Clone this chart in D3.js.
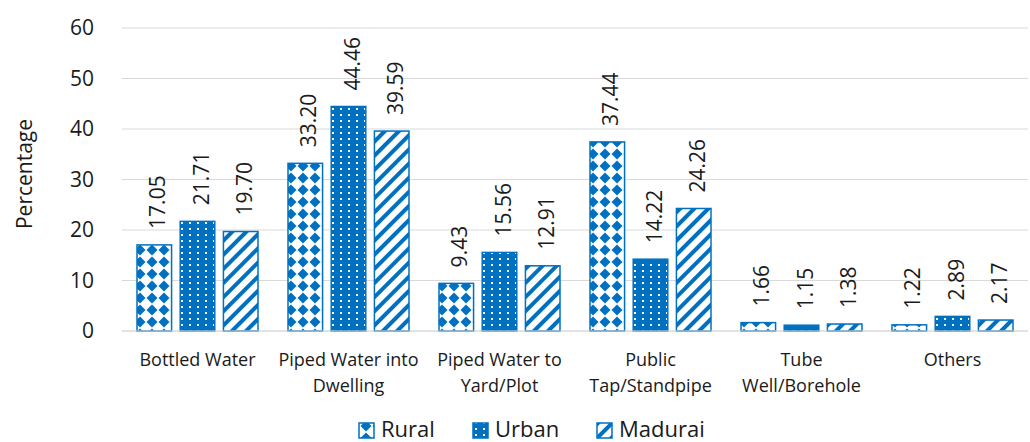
<!DOCTYPE html>
<html>
<head>
<meta charset="utf-8">
<script src="https://cdn.jsdelivr.net/npm/d3@7"></script>
<style>
body { margin: 0; background: #fff; }
text { font-family: "Open Sans", sans-serif; fill: #1a1a1a; }
</style>
</head>
<body>
<script>
// data
const categories = [
  ['Bottled Water'],
  ['Piped Water into', 'Dwelling'],
  ['Piped Water to', 'Yard/Plot'],
  ['Public', 'Tap/Standpipe'],
  ['Tube', 'Well/Borehole'],
  ['Others']
];
const seriesNames = ['Rural', 'Urban', 'Madurai'];
const rural = [17.05, 33.20, 9.43, 37.44, 1.66, 1.22];
const urban = [21.71, 44.46, 15.56, 14.22, 1.15, 2.89];
const madurai = [19.70, 39.59, 12.91, 24.26, 1.38, 2.17];
const yTicks = [0, 10, 20, 30, 40, 50, 60];

const blue = '#0070C0';
const width = 1030, height = 442;
const margin = { top: 28, right: 2, bottom: 111, left: 122 };
const innerW = width - margin.left - margin.right;
const innerH = height - margin.top - margin.bottom;

const svg = d3.select('body').append('svg')
  .attr('width', width)
  .attr('height', height);

// patterns
const defs = svg.append('defs');
const pRural = defs.append('pattern').attr('id', 'p-rural')
  .attr('patternUnits', 'userSpaceOnUse').attr('width', 12).attr('height', 12);
pRural.append('rect').attr('width', 12).attr('height', 12).attr('fill', '#fff');
pRural.append('path').attr('d', 'M6,0.5 L11.5,6 L6,11.5 L0.5,6 Z').attr('fill', blue);

const pUrban = defs.append('pattern').attr('id', 'p-urban')
  .attr('patternUnits', 'userSpaceOnUse').attr('width', 8).attr('height', 6);
pUrban.append('rect').attr('width', 8).attr('height', 6).attr('fill', blue);
pUrban.append('rect').attr('x', 3).attr('y', 2).attr('width', 2).attr('height', 2).attr('fill', '#fff');

const pMad = defs.append('pattern').attr('id', 'p-madurai')
  .attr('patternUnits', 'userSpaceOnUse').attr('width', 10).attr('height', 10)
  .attr('patternTransform', 'rotate(45)');
pMad.append('rect').attr('width', 10).attr('height', 10).attr('fill', '#fff');
pMad.append('rect').attr('width', 4).attr('height', 10).attr('fill', blue);

const fills = ['url(#p-rural)', 'url(#p-urban)', 'url(#p-madurai)'];

const g = svg.append('g').attr('transform', `translate(${margin.left},${margin.top})`);

// scales
const x0 = d3.scaleBand().domain(d3.range(categories.length)).range([0, innerW]);
const x1 = d3.scaleBand().domain(d3.range(3)).range([15, x0.bandwidth() - 15]).paddingInner(0.2);
const y = d3.scaleLinear().domain([0, 60]).range([innerH, 0]);

// gridlines
g.selectAll('.grid').data(yTicks).enter().append('line')
  .attr('x1', 0).attr('x2', innerW)
  .attr('y1', d => y(d)).attr('y2', d => y(d))
  .attr('stroke', '#d9d9d9').attr('stroke-width', 1);

// y axis
const yAxis = g.append('g').call(d3.axisLeft(y).tickValues(yTicks).tickSize(0).tickPadding(28));
yAxis.select('.domain').remove();
yAxis.selectAll('text').style('font-size', '21px').style('font-family', '"Open Sans", sans-serif').attr('fill', '#1a1a1a');

svg.append('text')
  .attr('transform', 'translate(32,174) rotate(-90)')
  .attr('text-anchor', 'middle')
  .style('font-size', '21px')
  .text('Percentage');

// bars
const data = categories.map((c, i) => [rural[i], urban[i], madurai[i]]);
const groups = g.selectAll('.grp').data(data).enter().append('g')
  .attr('transform', (d, i) => `translate(${x0(i)},0)`);

groups.selectAll('rect').data(d => d).enter().append('rect')
  .attr('x', (d, j) => x1(j))
  .attr('y', d => y(d))
  .attr('width', x1.bandwidth())
  .attr('height', d => y(0) - y(d))
  .attr('fill', (d, j) => fills[j])
  .attr('stroke', blue).attr('stroke-width', 1.5);

groups.selectAll('.val').data(d => d).enter().append('text')
  .attr('transform', (d, j) => `translate(${x1(j) + x1.bandwidth() / 2 + 11},${y(d) - 16}) rotate(-90)`)
  .attr('text-anchor', 'start')
  .style('font-size', '21px')
  .text(d => d.toFixed(2));

// baseline
g.append('line').attr('x1', 0).attr('x2', innerW).attr('y1', y(0)).attr('y2', y(0))
  .attr('stroke', '#d9d9d9');

// category labels
categories.forEach((lines, i) => {
  const t = g.append('text')
    .attr('x', x0(i) + x0.bandwidth() / 2)
    .attr('y', innerH + 35)
    .attr('text-anchor', 'middle')
    .style('font-size', '18px');
  lines.forEach((l, k) => t.append('tspan')
    .attr('x', x0(i) + x0.bandwidth() / 2)
    .attr('dy', k === 0 ? 0 : 26)
    .text(l));
});

// legend
const legendX = [359, 473, 597];
const legend = svg.append('g');
seriesNames.forEach((n, i) => {
  legend.append('rect')
    .attr('x', legendX[i]).attr('y', 423)
    .attr('width', 15).attr('height', 15)
    .attr('fill', fills[i]).attr('stroke', blue).attr('stroke-width', 1.5);
  legend.append('text')
    .attr('x', legendX[i] + 22).attr('y', 437)
    .style('font-size', '22px')
    .text(n);
});
</script>
</body>
</html>
